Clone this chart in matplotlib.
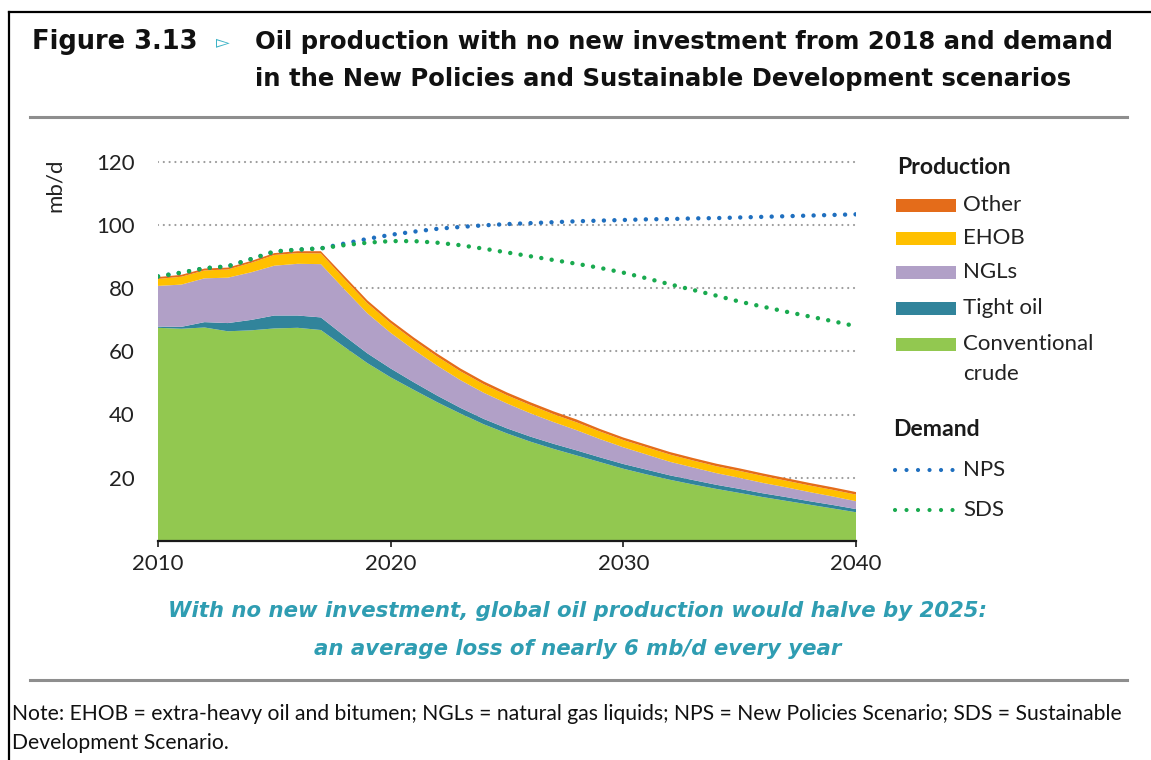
import matplotlib
matplotlib.use("Agg")
import matplotlib.pyplot as plt
from matplotlib.lines import Line2D
from matplotlib.patches import Rectangle
import numpy as np

# ---------------- data (mb/d) ----------------
years = np.arange(2010, 2041)
conventional = [67.5, 67.2, 67.6, 66.4, 66.7, 67.3, 67.5, 66.8,
                61.5, 56.3, 51.8, 47.8, 43.9, 40.3, 36.9, 34.0, 31.4, 29.1,
                27.0, 24.9, 22.8, 21.0, 19.3, 17.8, 16.4, 15.1, 13.8, 12.6,
                11.4, 10.2, 9.0]
tight_oil = [0.4, 0.6, 1.7, 2.6, 3.3, 4.1, 3.9, 4.0,
             3.5, 3.1, 2.8, 2.4, 2.1, 1.8, 1.7, 1.6, 1.6, 1.6,
             1.6, 1.5, 1.5, 1.5, 1.4, 1.4, 1.3, 1.3, 1.2, 1.2,
             1.1, 1.1, 1.0]
ngls = [12.9, 13.4, 13.9, 14.4, 15.1, 15.8, 16.4, 16.9,
        14.8, 12.7, 11.3, 10.3, 9.5, 8.8, 8.3, 7.9, 7.4, 6.9,
        6.4, 5.8, 5.3, 4.8, 4.3, 4.0, 3.7, 3.5, 3.3, 3.1,
        2.9, 2.7, 2.5]
ehob = [2.2, 2.5, 2.5, 2.6, 3.0, 3.4, 3.4, 3.4,
        3.3, 3.2, 3.1, 3.0, 2.9, 2.8, 2.7, 2.6, 2.6, 2.5,
        2.5, 2.4, 2.3, 2.3, 2.3, 2.2, 2.2, 2.2, 2.2, 2.1,
        2.1, 2.1, 2.1]
other = [0.6, 0.6, 0.6, 0.6, 0.6, 0.6, 0.6, 0.7,
         0.9, 0.9, 0.9, 0.9, 0.9, 0.9, 0.9, 0.9, 0.9, 0.9,
         0.9, 0.8, 0.8, 0.8, 0.8, 0.8, 0.8, 0.8, 0.8, 0.8,
         0.8, 0.8, 0.8]
nps_demand = [83.8, 85.0, 86.4, 87.0, 89.3, 91.7, 92.3, 92.7,
              94.2, 95.7, 97.0, 98.0, 98.9, 99.5, 100.0, 100.4, 100.7, 101.0,
              101.3, 101.5, 101.7, 101.9, 102.0, 102.2, 102.3, 102.5, 102.7, 102.9,
              103.1, 103.3, 103.5]
sds_demand = [83.8, 85.0, 86.4, 87.0, 89.3, 91.7, 92.3, 92.7,
              93.7, 94.5, 95.0, 95.0, 94.5, 93.7, 92.6, 91.4, 90.2, 89.0,
              87.8, 86.5, 85.0, 83.2, 81.3, 79.5, 77.7, 75.8, 74.2, 72.6,
              71.1, 69.6, 68.0]

production_labels = ["Other", "EHOB", "NGLs", "Tight oil", "Conventional\ncrude"]
demand_labels = ["NPS", "SDS"]
y_ticks = [20, 40, 60, 80, 100, 120]
x_ticks = [2010, 2020, 2030, 2040]

# ---------------- style ----------------
C_CONV = "#92C850"
C_TIGHT = "#31849B"
C_NGL = "#B1A0C7"
C_EHOB = "#FFC000"
C_OTHER = "#E46C1A"
C_NPS = "#1F6FBF"
C_SDS = "#19AA4F"
C_TEAL_TXT = "#2F9DB2"
SANS = ["Lato", "DejaVu Sans"]
HEAVY = ["DejaVu Sans"]

W, H = 1151, 760
fig = plt.figure(figsize=(W / 100, H / 100), dpi=100)
fig.patch.set_facecolor("white")


def fx(px):
    return px / W


def fy(py):
    return 1 - py / H


# axes: 2010 -> x=158, 2040 -> x=856 ; y=0 -> 540.6, 120 -> 162.3
px_per_unit = (540.6 - 162.3) / 120.0
ytop = 121.5
ax = fig.add_axes([fx(158), fy(540.6), fx(856) - fx(158),
                   (ytop * px_per_unit) / H])

ax.stackplot(years, conventional, tight_oil, ngls, ehob, other,
             colors=[C_CONV, C_TIGHT, C_NGL, C_EHOB, C_OTHER],
             linewidth=0.0, zorder=2)

dot_kw = dict(lw=3.2, linestyle=(0, (0.01, 2.35)), dash_capstyle="round", zorder=4)
ax.plot(years, nps_demand, color=C_NPS, **dot_kw)
ax.plot(years, sds_demand, color=C_SDS, **dot_kw)

ax.set_xlim(2010, 2040)
ax.set_ylim(0, ytop)
ax.set_yticks(y_ticks)
ax.set_xticks(x_ticks)
ax.yaxis.grid(True, color="#9C9C9C", lw=1.6, linestyle=(0, (0.01, 2.6)),
              dash_capstyle="round", zorder=1)
ax.set_axisbelow(True)
for s in ["left", "right", "top"]:
    ax.spines[s].set_visible(False)
ax.spines["bottom"].set_color("#1a1a1a")
ax.spines["bottom"].set_linewidth(1.6)
ax.spines["bottom"].set_zorder(5)
ax.tick_params(axis="y", length=0, pad=17, labelsize=16, labelcolor="#222222")
ax.tick_params(axis="x", length=4.5, width=1.2, direction="out", pad=5,
               labelsize=16, labelcolor="#222222", color="#1a1a1a")
for lab in ax.get_xticklabels() + ax.get_yticklabels():
    lab.set_family(SANS)

fig.text(fx(55), fy(185), "mb/d", rotation=90, ha="center", va="center",
         fontsize=16, family=SANS, color="#222222")

# ---------------- legend ----------------
LEG_FS = 16
HEAD_FS = 16.6
fig.text(fx(897), fy(167), "Production", ha="left", va="center", fontsize=HEAD_FS,
         fontweight="bold", family=SANS, color="#1a1a1a")
prod_colors = [C_OTHER, C_EHOB, C_NGL, C_TIGHT, C_CONV]
prod_rows = [205, 238, 272, 308, 344]
for lab, col, yy in zip(production_labels, prod_colors, prod_rows):
    fig.add_artist(Rectangle((fx(896), fy(yy + 6.5)), fx(60), 13 / H,
                             facecolor=col, edgecolor="none", transform=fig.transFigure))
    lines = lab.split("\n")
    for k, ln in enumerate(lines):
        fig.text(fx(963), fy(yy + 30 * k), ln, ha="left", va="center", fontsize=LEG_FS,
                 family=SANS, color="#222222")

fig.text(fx(893), fy(430), "Demand", ha="left", va="center", fontsize=HEAD_FS,
         fontweight="bold", family=SANS, color="#1a1a1a")
dem_colors = [C_NPS, C_SDS]
dem_rows = [470, 510]
for lab, col, yy in zip(demand_labels, dem_colors, dem_rows):
    fig.add_artist(Line2D([fx(895), fx(953)], [fy(yy), fy(yy)], color=col, lw=3.0,
                          linestyle=(0, (0.01, 2.75)), dash_capstyle="round",
                          transform=fig.transFigure))
    fig.text(fx(963), fy(yy), lab, ha="left", va="center", fontsize=LEG_FS,
             family=SANS, color="#222222")

# ---------------- frame and titles ----------------
fig.add_artist(Line2D([fx(9), fx(9)], [0, fy(12)], color="black", lw=1.6,
                      transform=fig.transFigure))
fig.add_artist(Line2D([fx(9), 1], [fy(12), fy(12)], color="black", lw=1.6,
                      transform=fig.transFigure))
fig.add_artist(Line2D([fx(30), fx(1127)], [fy(117), fy(117)], color="#8E8E8E", lw=2.2,
                      transform=fig.transFigure))
fig.add_artist(Line2D([fx(30), fx(1127)], [fy(680), fy(680)], color="#8E8E8E", lw=2.2,
                      transform=fig.transFigure))

fig.text(fx(32), fy(49), "Figure 3.13", ha="left", va="baseline", fontsize=18.5,
         fontweight="heavy", family=HEAVY, color="#111111")
fig.text(fx(216), fy(47), "\u25bb", ha="left", va="baseline", fontsize=13,
         family=HEAVY, color="#3DB3C6")
fig.text(fx(255), fy(49), "Oil production with no new investment from 2018 and demand",
         ha="left", va="baseline", fontsize=17.5, fontweight="bold", family=HEAVY,
         color="#111111")
fig.text(fx(255), fy(86), "in the New Policies and Sustainable Development scenarios",
         ha="left", va="baseline", fontsize=17.5, fontweight="bold", family=HEAVY,
         color="#111111")

fig.text(fx(578), fy(617), "With no new investment, global oil production would halve by 2025:",
         ha="center", va="baseline", fontsize=15.3, fontweight="bold", style="italic",
         family=HEAVY, color=C_TEAL_TXT)
fig.text(fx(578), fy(655), "an average loss of nearly 6 mb/d every year",
         ha="center", va="baseline", fontsize=15.3, fontweight="bold", style="italic",
         family=HEAVY, color=C_TEAL_TXT)

fig.text(fx(12), fy(720), "Note: EHOB = extra-heavy oil and bitumen; NGLs = natural gas liquids; "
         "NPS = New Policies Scenario; SDS = Sustainable",
         ha="left", va="baseline", fontsize=15.25, family=SANS, color="#111111")
fig.text(fx(12), fy(749), "Development Scenario.", ha="left", va="baseline",
         fontsize=15.25, family=SANS, color="#111111")

fig.savefig("out.png", dpi=100, facecolor="white")
